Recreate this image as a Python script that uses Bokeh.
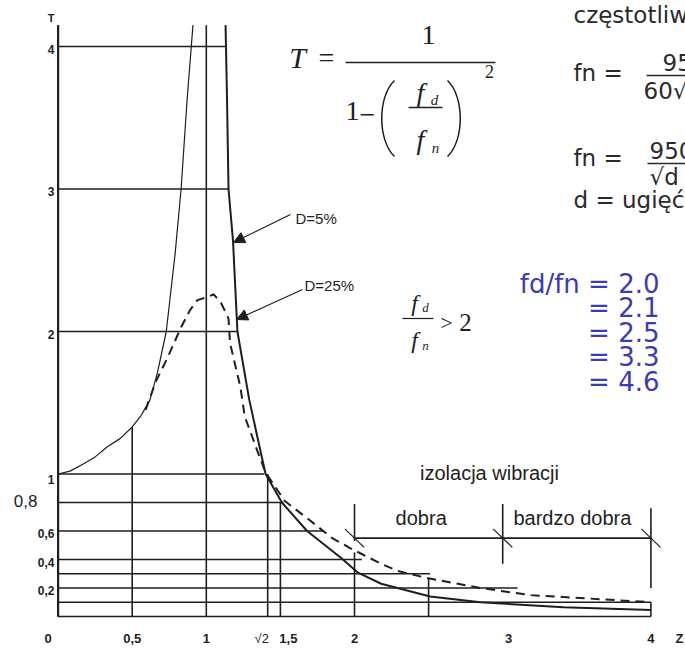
import math
from bokeh.plotting import figure
from bokeh.models import Range1d, Label, Arrow, NormalHead
from bokeh.embed import file_html
from bokeh.resources import INLINE

# ---------------- data ----------------
SQ2 = math.sqrt(2)

# D = 5 % curve (solid), left and right branch of the resonance
d5_left_r = [0.0, 0.08, 0.17, 0.25, 0.33, 0.42, 0.50, 0.56, 0.62, 0.67, 0.73, 0.79,
             0.83, 0.87, 0.91]
d5_left_t = [1.0, 1.02, 1.07, 1.12, 1.19, 1.25, 1.33, 1.41, 1.52, 1.71, 2.00, 2.55,
             3.00, 3.62, 4.15]
d5_right_r = [1.13, 1.14, 1.15, 1.18, 1.21, 1.29, 1.37, 1.40, 1.51, 1.68, 1.91,
              2.02, 2.18, 2.51, 2.85, 3.41, 4.0]
d5_right_t = [4.15, 3.62, 3.00, 2.64, 2.00, 1.52, 1.14, 1.00, 0.80, 0.60, 0.41,
              0.31, 0.23, 0.14, 0.10, 0.065, 0.045]

# D = 25 % curve (dashed)
d25_r = [0.59, 0.66, 0.74, 0.83, 0.89, 0.94, 1.00, 1.05, 1.10, 1.15, 1.16, 1.23,
         1.26, 1.30, 1.345, 1.40, 1.53, 1.68, 1.85, 1.97, 2.18, 2.29, 2.49, 2.85,
         3.19, 3.52, 4.0]
d25_t = [1.45, 1.65, 1.82, 2.03, 2.15, 2.22, 2.24, 2.26, 2.20, 2.09, 1.92, 1.61,
         1.40, 1.29, 1.16, 1.01, 0.81, 0.69, 0.55, 0.48, 0.37, 0.32, 0.27, 0.20,
         0.15, 0.13, 0.10]

# horizontal grid lines: level and where each one ends
h_levels = [4, 3, 2, 1, 0.8, 0.6, 0.4, 0.3, 0.2, 0.1, 0]
h_ends = [1.13, 1.15, 1.21, 1.39, 1.52, 1.79, 2.05, 2.51, 3.10, 4.0, 4.0]

# vertical lines: position and top
v_pos = [0, 0.5, 1, SQ2, 1.5, 2, 2.5, 4]
v_tops = [4.15, 1.33, 4.15, 1.0, 0.8, 0.45, 0.27, 0.10]

# vibration isolation zones bracket
zone_x = [2, 3, 4]
zone_top = [0.79, 0.79, 0.76]
zone_bottom = [0.53, 0.37, 0.20]
zone_level = 0.55
zone_names = ["dobra", "bardzo dobra"]

# tick labels
x_ticks = [0, 0.5, 1, SQ2, 1.5, 2, 3, 4]
x_labels = ["0", "0,5", "1", "\u221a2", "1,5", "2", "3", "4"]
y_ticks = [4, 3, 2, 1, 0.6, 0.4, 0.2]
y_labels = ["4", "3", "2", "1", "0,6", "0,4", "0,2"]

ratios_text = ["fd/fn = 2.0", "= 2.1", "= 2.5", "= 3.3", "= 4.6"]

# ---------------- figure ----------------
W, H = 685, 649
SX, SY = 148.2, 142.5            # pixels per unit
XR = (-57.6 / SX, -57.6 / SX + W / SX)
YR = (616 / SY - H / SY, 616 / SY)


def X(px):  # screen position of an annotation -> data x
    return XR[0] + px / SX


def Y(py):
    return YR[1] - py / SY


p = figure(width=W, height=H, x_range=Range1d(*XR), y_range=Range1d(*YR),
           output_backend="svg", toolbar_location=None, min_border=0,
           x_axis_location=None, y_axis_location=None,
           outline_line_color=None, background_fill_color="white")
p.grid.visible = False

INK = "#1e1e1e"

# grid
p.segment(x0=[0] * len(h_levels), y0=h_levels, x1=h_ends, y1=h_levels,
          line_color=INK, line_width=1.6)
p.segment(x0=v_pos, y0=[0] * len(v_pos), x1=v_pos, y1=v_tops,
          line_color=INK, line_width=1.6)
p.segment(x0=[0], y0=[0], x1=[0], y1=[v_tops[0]], line_color=INK, line_width=2.2)

# curves
p.line(d5_left_r, d5_left_t, line_color=INK, line_width=1.2)
p.line(d5_right_r, d5_right_t, line_color=INK, line_width=2.0)
p.line(d25_r, d25_t, line_color=INK, line_width=2.0, line_dash="9 6")

# zone bracket
p.segment(x0=zone_x, y0=zone_bottom, x1=zone_x, y1=zone_top, line_color=INK, line_width=1.6)
p.segment(x0=[zone_x[0]], y0=[zone_level], x1=[zone_x[-1]], y1=[zone_level],
          line_color=INK, line_width=1.6)
dx, dy = 0.065, 0.065
p.segment(x0=[z - dx for z in zone_x], y0=[zone_level + dy] * 3,
          x1=[z + dx for z in zone_x], y1=[zone_level - dy] * 3,
          line_color=INK, line_width=1.2)

SANS = "Liberation Sans"
SERIF = "Liberation Serif"
VERD = "DejaVu Sans"


def lab(x, y, text, size, font=SANS, style="normal", align="center",
        baseline="middle", color=INK):
    p.add_layout(Label(x=x, y=y, text=text, text_font=font, text_font_size=size,
                       text_font_style=style, text_align=align,
                       text_baseline=baseline, text_color=color))


# tick labels
for xt, xl in zip(x_ticks, x_labels):
    off = {"0": -10, "\u221a2": -6, "1,5": 8, "3": 6}.get(xl, 0)
    lab(xt + off / SX, Y(638), xl, "13px", style="bold" if xl != "\u221a2" else "normal")
lab(X(679), Y(638), "Z", "13px", style="bold")
for yt, yl in zip(y_ticks, y_labels):
    shift = 0.04 if yl == "1" else 0.02
    lab(X(54), yt - shift, yl, "12px", style="bold", align="right")
lab(X(37), Y(500), "0,8", "17px", align="right")
lab(X(54), Y(17), "T", "11px", style="bold", align="right")

# curve labels + arrows
lab(X(295), Y(218), "D=5%", "15px", align="left")
lab(X(304), Y(285), "D=25%", "15px", align="left")
p.add_layout(Arrow(end=NormalHead(size=11, fill_color=INK, line_color=INK),
                   x_start=X(290), y_start=Y(214), x_end=X(233), y_end=Y(242),
                   line_color=INK, line_width=1.2))
p.add_layout(Arrow(end=NormalHead(size=11, fill_color=INK, line_color=INK),
                   x_start=X(302), y_start=Y(289), x_end=X(236), y_end=Y(319),
                   line_color=INK, line_width=1.2))

# zone texts
lab(X(489), Y(472), "izolacja wibracji", "20px")
lab((zone_x[0] + zone_x[1]) / 2 - 0.05, Y(517), zone_names[0], "20px")
lab((zone_x[1] + zone_x[2]) / 2 - 0.03, Y(517), zone_names[1], "20px")

# formula T = 1 / (1 - (fd/fn)^2)
lab(X(297), Y(57), "T", "30px", font=SERIF, style="italic")
lab(X(326), Y(57), "=", "28px", font=SERIF)
lab(X(428), Y(34), "1", "28px", font=SERIF)
p.segment(x0=[X(345)], y0=[Y(62)], x1=[X(495)], y1=[Y(62)], line_color=INK, line_width=1.6)
lab(X(352), Y(110), "1", "28px", font=SERIF)
lab(X(367), Y(114), "\u2212", "28px", font=SERIF)
p.bezier(x0=[X(394), X(447)], y0=[Y(80), Y(80)], x1=[X(394), X(447)], y1=[Y(156), Y(156)],
         cx0=[X(377), X(464)], cy0=[Y(96), Y(96)], cx1=[X(377), X(464)], cy1=[Y(140), Y(140)],
         line_color=INK, line_width=1.5)
lab(X(420), Y(92), "f", "28px", font=SERIF, style="italic")
lab(X(434), Y(99), "d", "15px", font=SERIF, style="italic")
p.segment(x0=[X(408)], y0=[Y(107)], x1=[X(442)], y1=[Y(107)], line_color=INK, line_width=1.4)
lab(X(420), Y(139), "f", "28px", font=SERIF, style="italic")
lab(X(435), Y(147), "n", "15px", font=SERIF, style="italic")
lab(X(489), Y(71), "2", "18px", font=SERIF)

# fd/fn > 2
lab(X(414), Y(302), "f", "24px", font=SERIF, style="italic")
lab(X(425), Y(307), "d", "13px", font=SERIF, style="italic")
p.segment(x0=[X(402)], y0=[Y(318)], x1=[X(433)], y1=[Y(318)], line_color=INK, line_width=1.2)
lab(X(414), Y(339), "f", "24px", font=SERIF, style="italic")
lab(X(425), Y(345), "n", "13px", font=SERIF, style="italic")
lab(X(446), Y(322), ">", "22px", font=SERIF)
lab(X(465), Y(322), "2", "25px", font=SERIF)

# right-hand text block (cut by the right edge as in the picture)
TXT = "#2a2a2a"
FS = "23px"
lab(X(573), Y(14), "cz\u0119stotliw", FS, font=VERD, align="left", color=TXT)
lab(X(573), Y(72), "fn =", FS, font=VERD, align="left", color=TXT)
lab(X(662), Y(62), "95", FS, font=VERD, align="left", color=TXT)
p.segment(x0=[X(646)], y0=[Y(75)], x1=[X(700)], y1=[Y(75)], line_color=TXT, line_width=1.4)
lab(X(643), Y(90), "60\u221a", FS, font=VERD, align="left", color=TXT)
lab(X(573), Y(157), "fn =", FS, font=VERD, align="left", color=TXT)
lab(X(649), Y(150), "950", FS, font=VERD, align="left", color=TXT)
p.segment(x0=[X(647)], y0=[Y(163)], x1=[X(700)], y1=[Y(163)], line_color=TXT, line_width=1.4)
lab(X(649), Y(176), "\u221ad", FS, font=VERD, align="left", color=TXT)
lab(X(573), Y(199), "d = ugi\u0119\u0107", FS, font=VERD, align="left", color=TXT)

BLUE = "#3c3cae"
for i, t in enumerate(ratios_text):
    lab(X(659), Y(283 + 24.5 * i), t, "26px", font=VERD, align="right", color=BLUE)

open("out.html", "w").write(file_html(p, INLINE))
